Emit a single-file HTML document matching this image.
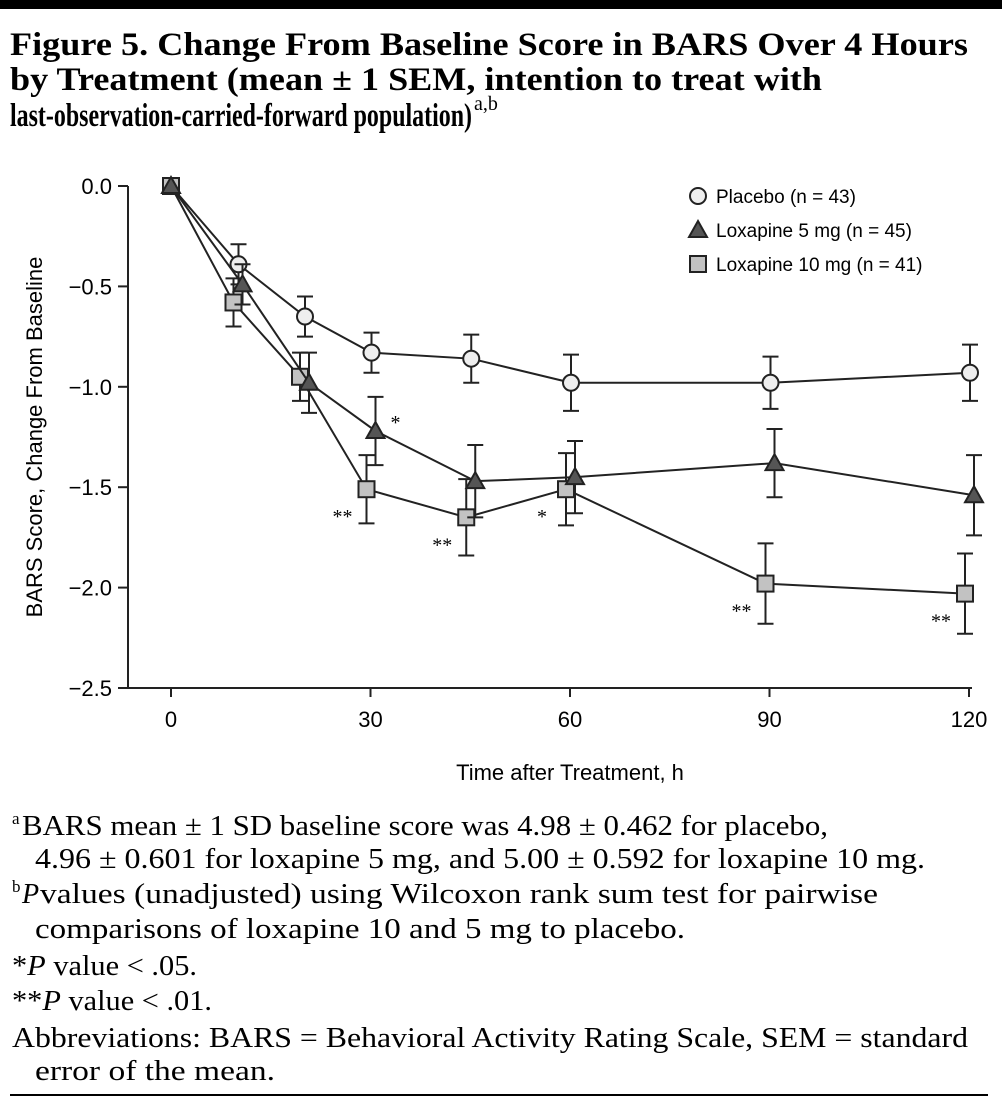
<!DOCTYPE html>
<html><head><meta charset="utf-8"><style>
body{margin:0;background:#fff}
svg{display:block}
.s{font-family:"Liberation Sans",sans-serif}
.r{font-family:"Liberation Serif",serif}
</style></head><body>
<svg id="c" width="1002" height="1102" viewBox="0 0 1002 1102">
<rect x="0" y="0" width="1002" height="9" fill="#000"/>
<g class="r" font-weight="bold" font-size="33">
<text x="10" y="55" textLength="958" lengthAdjust="spacingAndGlyphs">Figure 5. Change From Baseline Score in BARS Over 4 Hours</text>
<text x="10" y="90" textLength="812" lengthAdjust="spacingAndGlyphs">by Treatment (mean ± 1 SEM, intention to treat with</text>
<text x="10" y="126" textLength="462" lengthAdjust="spacingAndGlyphs">last-observation-carried-forward population)</text>
<text x="474" y="110" font-size="20" font-weight="normal">a,b</text>
</g>
<g id="axes"></g>
<g id="plot"></g>
<g class="s" font-size="19">
<circle cx="698" cy="196" r="8" fill="#eee" stroke="#222" stroke-width="2"/>
<text x="716" y="203">Placebo (n = 43)</text>
<polygon points="698,221 707,237 689,237" fill="#555" stroke="#222" stroke-width="2"/>
<text x="716" y="237">Loxapine 5 mg (n = 45)</text>
<rect x="690" y="256" width="16" height="16" fill="#c2c2c2" stroke="#222" stroke-width="2"/>
<text x="716" y="271">Loxapine 10 mg (n = 41)</text>
</g>
<text class="s" x="570" y="780" font-size="22" text-anchor="middle">Time after Treatment, h</text>
<text class="s" x="0" y="0" font-size="22" text-anchor="middle" transform="translate(42,437) rotate(-90)">BARS Score, Change From Baseline</text>
<g class="r" font-size="28">
<text x="12" y="824" font-size="17">a</text>
<text x="22" y="835" textLength="806" lengthAdjust="spacingAndGlyphs">BARS mean ± 1 SD baseline score was 4.98 ± 0.462 for placebo,</text>
<text x="35" y="868" textLength="890" lengthAdjust="spacingAndGlyphs">4.96 ± 0.601 for loxapine 5 mg, and 5.00 ± 0.592 for loxapine 10 mg.</text>
<text x="12" y="892" font-size="17">b</text>
<text x="22" y="903" font-style="italic">P</text>
<text x="40" y="903" textLength="838" lengthAdjust="spacingAndGlyphs">values (unadjusted) using Wilcoxon rank sum test for pairwise</text>
<text x="35" y="938" textLength="650" lengthAdjust="spacingAndGlyphs">comparisons of loxapine 10 and 5 mg to placebo.</text>
<text x="12" y="975" textLength="185" lengthAdjust="spacingAndGlyphs">*<tspan font-style="italic">P</tspan> value &lt; .05.</text>
<text x="12" y="1010" textLength="200" lengthAdjust="spacingAndGlyphs">**<tspan font-style="italic">P</tspan> value &lt; .01.</text>
<text x="12" y="1047" textLength="956" lengthAdjust="spacingAndGlyphs">Abbreviations: BARS = Behavioral Activity Rating Scale, SEM = standard</text>
<text x="35" y="1080" textLength="240" lengthAdjust="spacingAndGlyphs">error of the mean.</text>
</g>
<rect x="10" y="1094" width="978" height="2" fill="#000"/>
</svg>
<script>
const times=[0,10,20,30,45,60,90,120];
const placebo=[0,-0.39,-0.65,-0.83,-0.86,-0.98,-0.98,-0.93];
const placeboErr=[0,0.1,0.1,0.1,0.12,0.14,0.13,0.14];
const lox5=[0,-0.49,-0.98,-1.22,-1.47,-1.45,-1.38,-1.54];
const lox5Err=[0,0.1,0.15,0.17,0.18,0.18,0.17,0.2];
const lox10=[0,-0.58,-0.95,-1.51,-1.65,-1.51,-1.98,-2.03];
const lox10Err=[0,0.12,0.12,0.17,0.19,0.18,0.2,0.2];
const xTicks=[0,30,60,90,120];
const yTicks=[0,-0.5,-1,-1.5,-2,-2.5];
const yTickLabels=["0.0","\u22120.5","\u22121.0","\u22121.5","\u22122.0","\u22122.5"];
const sig5=["","","","*","","","",""];
const sig10=["","","","**","**","*","**","**"];
const NS="http://www.w3.org/2000/svg";
const X=t=>171+t*6.65;
const Y=v=>186-v*200.8;
function mk(tag,attrs,parent){const e=document.createElementNS(NS,tag);for(const k in attrs)e.setAttribute(k,attrs[k]);parent.appendChild(e);return e;}
const ax=document.getElementById('axes'),pl=document.getElementById('plot');
let e=mk('line',{x1:128,y1:186,x2:128,y2:688,stroke:'#222','stroke-width':2},ax);


e=mk('line',{x1:127,y1:688,x2:972,y2:688,stroke:'#222','stroke-width':2},ax);


yTicks.forEach((v,i)=>{
 mk('line',{x1:118,y1:Y(v),x2:128,y2:Y(v),stroke:'#222','stroke-width':2},ax);
 const t=mk('text',{x:112,y:Y(v)+8,'font-size':22,'text-anchor':'end',class:'s'},ax);t.textContent=yTickLabels[i];
 
 
});
xTicks.forEach(v=>{
 mk('line',{x1:X(v),y1:688,x2:X(v),y2:697,stroke:'#222','stroke-width':2},ax);
 const t=mk('text',{x:X(v),y:727,'font-size':22,'text-anchor':'middle',class:'s'},ax);t.textContent=String(v);
 
 
});
function series(vals,errs,off,kind,fill,name){
 const g=mk('g',{},pl);
 
 
 const xs=times.map((t,i)=>X(t)+(i?off:0));
 mk('polyline',{points:xs.map((x,i)=>x+','+Y(vals[i])).join(' '),fill:'none',stroke:'#222','stroke-width':2},g);
 vals.forEach((v,i)=>{
  if(errs[i]>0){const x=xs[i],a=Y(v-errs[i]),b=Y(v+errs[i]);
   mk('path',{d:`M${x},${a}V${b}M${x-8},${a}H${x+8}M${x-8},${b}H${x+8}`,stroke:'#222','stroke-width':2,fill:'none'},g);}
 });
 vals.forEach((v,i)=>{
  const x=xs[i],y=Y(v);let m;
  if(kind==='c')m=mk('circle',{cx:x,cy:y,r:8,fill:fill,stroke:'#222','stroke-width':2},g);
  else if(kind==='t')m=mk('polygon',{points:`${x},${y-9} ${x+9},${y+7} ${x-9},${y+7}`,fill:fill,stroke:'#222','stroke-width':2},g);
  else m=mk('rect',{x:x-8,y:y-8,width:16,height:16,fill:fill,stroke:'#222','stroke-width':2},g);
  
  
 });
 return xs;
}
series(placebo,placeboErr,1,'c','#eee','placebo');
const x10=series(lox10,lox10Err,-4,'s','#c2c2c2','lox10');
const x5=series(lox5,lox5Err,5,'t','#555','lox5');
sig5.forEach((s,i)=>{if(!s)return;const t=mk('text',{x:x5[i]+20,y:Y(lox5[i])-2,'font-size':20,'text-anchor':'middle',class:'r'},pl);t.textContent=s;
 
 });
sig10.forEach((s,i)=>{if(!s)return;const t=mk('text',{x:x10[i]-24,y:Y(lox10[i])+34,'font-size':20,'text-anchor':'middle',class:'r'},pl);t.textContent=s;
 
 });
</script>
</body></html>
